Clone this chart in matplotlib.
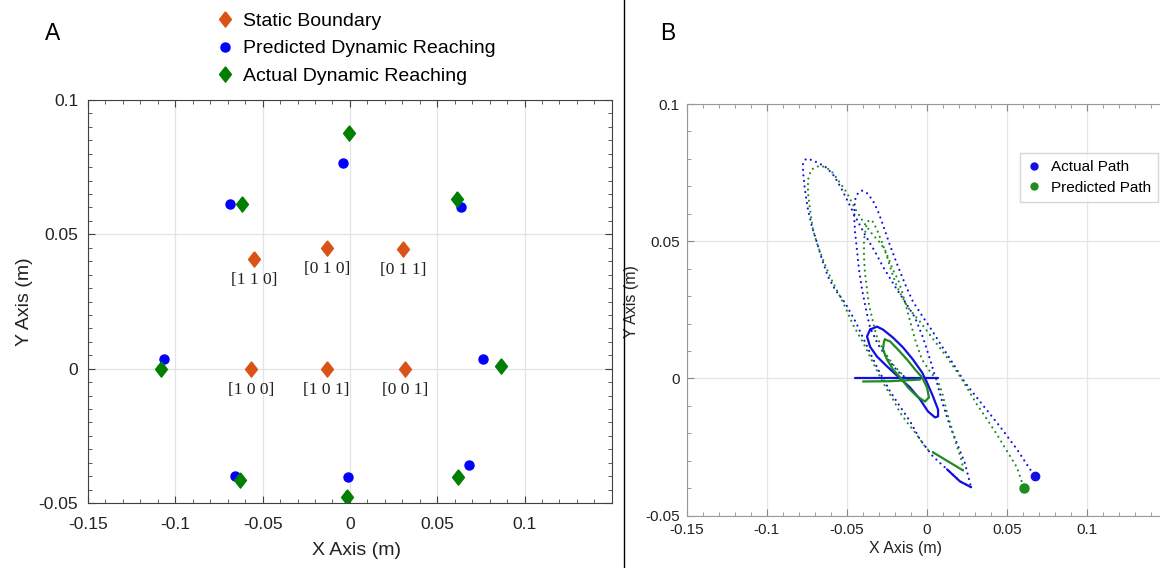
import matplotlib
matplotlib.use('Agg')
import matplotlib.pyplot as plt
from matplotlib.lines import Line2D
from matplotlib.ticker import MultipleLocator, FixedLocator, FuncFormatter

plt.rcParams['font.family'] = ['Liberation Sans', 'DejaVu Sans']
plt.rcParams['axes.unicode_minus'] = False

# ---- Panel A data ----
static_x = [-0.0549, -0.0133, 0.0305, -0.0567, -0.0133, 0.0318]
static_y = [0.0409, 0.0449, 0.0445, 0.0, 0.0, 0.0]
static_labels = ['[1 1 0]', '[0 1 0]', '[0 1 1]', '[1 0 0]', '[1 0 1]', '[0 0 1]']

pred_x = [-0.0687, -0.0038, 0.0634, -0.1063, 0.0760, -0.0657, -0.0009, 0.0680]
pred_y = [0.0612, 0.0765, 0.0602, 0.0036, 0.0036, -0.0400, -0.0403, -0.0360]

act_x = [-0.0617, -0.0003, 0.0615, -0.1080, 0.0865, -0.0629, -0.0015, 0.0617]
act_y = [0.0613, 0.0876, 0.0631, -0.0001, 0.0011, -0.0413, -0.0477, -0.0403]

# ---- Panel B data: actual path (blue) ----
blue_big_x = [0.0277, 0.0208, 0.0127, 0.0039, -0.0042, -0.0104, -0.0167, -0.0229, -0.0304,
              -0.0379, -0.0442, -0.0511, -0.0573, -0.0617, -0.0654, -0.0686, -0.0717, -0.0742,
              -0.0761, -0.0773, -0.0773, -0.0754, -0.0717, -0.0667, -0.0623, -0.0579, -0.0536,
              -0.0492, -0.0442, -0.0386, -0.0323, -0.0273, -0.0198, -0.0136, -0.0073, -0.0023,
              0.0021, 0.0064, 0.0102, 0.0146, 0.0189, 0.0239, 0.0277]
blue_big_y = [-0.0396, -0.0375, -0.0331, -0.0284, -0.0222, -0.0156, -0.0102, -0.0047, 0.0033,
              0.0124, 0.0204, 0.0276, 0.0324, 0.0371, 0.0433, 0.0495, 0.0553, 0.0615,
              0.0687, 0.0753, 0.0785, 0.0800, 0.0796, 0.0782, 0.0767, 0.0738, 0.0695,
              0.0644, 0.0585, 0.0524, 0.0462, 0.0407, 0.0335, 0.0280, 0.0222, 0.0149,
              0.0069, -0.0015, -0.0095, -0.0175, -0.0236, -0.0309, -0.0396]

blue_second_x = [-0.0117, -0.0179, -0.0242, -0.0304, -0.0354, -0.0379, -0.0404, -0.0423, -0.0436,
                 -0.0448, -0.0454, -0.0448, -0.0429, -0.0404, -0.0367, -0.0329, -0.0298, -0.0267,
                 -0.0229, -0.0186, -0.0136, -0.0086, -0.0029, 0.0033, 0.0096, 0.0164, 0.0239,
                 0.0333, 0.0458, 0.0564, 0.0646, 0.0677]
blue_second_y = [-0.0004, 0.0025, 0.0069, 0.0124, 0.0185, 0.0251, 0.0324, 0.0396, 0.0469,
                 0.0535, 0.0596, 0.0651, 0.0676, 0.0684, 0.0673, 0.0640, 0.0600, 0.0549,
                 0.0484, 0.0418, 0.0345, 0.0280, 0.0229, 0.0175, 0.0116, 0.0055, -0.0015,
                 -0.0084, -0.0175, -0.0258, -0.0331, -0.0356]

blue_loop_x = [-0.0354, -0.0311, -0.0273, -0.0211, -0.0148, -0.0086, -0.0029, 0.0002, 0.0039,
               0.0071, 0.0071, 0.0052, 0.0008, -0.0042, -0.0104, -0.0179, -0.0248, -0.0311,
               -0.0354, -0.0373, -0.0354]
blue_loop_y = [0.0178, 0.0189, 0.0178, 0.0149, 0.0113, 0.0069, 0.0022, -0.0015, -0.0065,
               -0.0113, -0.0138, -0.0142, -0.0120, -0.0076, -0.0033, 0.0007, 0.0044, 0.0080,
               0.0116, 0.0153, 0.0178]

blue_hline_x = [-0.0448, 0.0073]
blue_hline_y = [0.0, 0.0]

blue_tip_x = [0.0127, 0.0208, 0.0277]
blue_tip_y = [-0.0331, -0.0375, -0.0396]

# ---- Panel B data: predicted path (green) ----
green_big_x = [0.0039, 0.0002, -0.0073, -0.0123, -0.0167, -0.0211, -0.0273, -0.0336, -0.0398,
               -0.0461, -0.0511, -0.0554, -0.0604, -0.0648, -0.0679, -0.0711, -0.0729, -0.0742,
               -0.0742, -0.0723, -0.0692, -0.0661, -0.0623, -0.0586, -0.0542, -0.0498, -0.0467,
               -0.0436, -0.0392, -0.0342, -0.0292, -0.0261, -0.0236, -0.0211, -0.0179, -0.0154,
               -0.0123, -0.0098, -0.0067, -0.0029, 0.0021, 0.0071, 0.0096, 0.0127, 0.0158,
               0.0189, 0.0221, 0.0227]
green_big_y = [-0.0269, -0.0258, -0.0196, -0.0160, -0.0124, -0.0076, -0.0015, 0.0058, 0.0131,
               0.0196, 0.0262, 0.0313, 0.0371, 0.0433, 0.0480, 0.0542, 0.0615, 0.0676,
               0.0724, 0.0760, 0.0771, 0.0775, 0.0767, 0.0749, 0.0713, 0.0676, 0.0640,
               0.0607, 0.0567, 0.0527, 0.0495, 0.0469, 0.0433, 0.0396, 0.0360, 0.0316,
               0.0251, 0.0196, 0.0131, 0.0069, 0.0025, -0.0011, -0.0051, -0.0124, -0.0185,
               -0.0247, -0.0305, -0.0335]

green_second_x = [-0.0136, -0.0211, -0.0273, -0.0317, -0.0342, -0.0361, -0.0373, -0.0386, -0.0392,
                  -0.0392, -0.0379, -0.0361, -0.0336, -0.0311, -0.0279, -0.0248, -0.0217, -0.0186,
                  -0.0154, -0.0117, -0.0042, 0.0033, 0.0114, 0.0189, 0.0258, 0.0314, 0.0377,
                  0.0439, 0.0502, 0.0564, 0.0608]
green_second_y = [0.0004, 0.0051, 0.0105, 0.0160, 0.0222, 0.0269, 0.0324, 0.0385, 0.0444,
                  0.0505, 0.0553, 0.0578, 0.0571, 0.0542, 0.0495, 0.0444, 0.0385, 0.0335,
                  0.0298, 0.0258, 0.0207, 0.0149, 0.0087, 0.0025, -0.0040, -0.0095, -0.0149,
                  -0.0204, -0.0265, -0.0324, -0.0400]

green_loop_x = [-0.0261, -0.0229, -0.0179, -0.0123, -0.0073, -0.0029, 0.0002, 0.0014, -0.0011,
                -0.0061, -0.0117, -0.0154, -0.0211, -0.0248, -0.0273, -0.0267, -0.0261]
green_loop_y = [0.0142, 0.0135, 0.0105, 0.0069, 0.0033, 0.0004, -0.0033, -0.0069, -0.0084,
                -0.0065, -0.0033, -0.0004, 0.0033, 0.0069, 0.0105, 0.0135, 0.0142]

green_hline_x = [-0.0398, -0.0229, -0.0042]
green_hline_y = [-0.0011, -0.0010, -0.0004]

green_tip_x = [0.0039, 0.0227]
green_tip_y = [-0.0269, -0.0335]

blue_end = (0.0677, -0.0356)
green_end = (0.0608, -0.0400)

ORANGE = '#D95319'
BLUE = '#0000FF'
GREEN = '#007F00'
PATH_BLUE = '#1010E0'
PATH_GREEN = '#1E8C1E'

# MATLAB-like diamond: taller than wide
DIAMOND = [(0, 1), (0.78, 0), (0, -1), (-0.78, 0), (0, 1)]

fmt = FuncFormatter(lambda v, p: f'{v:g}')

fig = plt.figure(figsize=(11.6, 5.68), dpi=100)

# ---------------- Panel A ----------------
axA = fig.add_axes([88 / 1160, 65 / 568, 523.8 / 1160, 403 / 568])
axA.plot(static_x, static_y, ls='none', marker=DIAMOND, color=ORANGE, ms=11,
         label='Static Boundary')
axA.plot(pred_x, pred_y, 'o', color=BLUE, ms=6.5, label='Predicted Dynamic Reaching')
axA.plot(act_x, act_y, ls='none', marker=DIAMOND, color=GREEN, ms=11,
         label='Actual Dynamic Reaching')
for x, y, s in zip(static_x, static_y, static_labels):
    axA.text(x, y - 0.0078, s, ha='center', va='center', fontsize=12.5,
             family=['Liberation Serif', 'DejaVu Serif'], color='#222222')

axA.set_xlim(-0.15, 0.15)
axA.set_ylim(-0.05, 0.1)
axA.xaxis.set_major_locator(FixedLocator([-0.15, -0.1, -0.05, 0, 0.05, 0.1]))
axA.yaxis.set_major_locator(FixedLocator([-0.05, 0, 0.05, 0.1]))
axA.xaxis.set_minor_locator(MultipleLocator(0.01))
axA.yaxis.set_minor_locator(MultipleLocator(0.005))
axA.xaxis.set_major_formatter(fmt)
axA.yaxis.set_major_formatter(fmt)
axA.tick_params(which='both', direction='in', top=True, right=True, colors='#404040',
                labelcolor='#222222', labelsize=12.5)
axA.tick_params(which='major', length=5, pad=7)
axA.tick_params(axis='x', which='major', pad=10)
axA.tick_params(which='minor', length=3)
axA.grid(True, which='major', color='#e3e3e3', lw=0.9)
axA.set_axisbelow(True)
for sp in axA.spines.values():
    sp.set_color('#404040')
axA.set_xlabel('X Axis (m)', fontsize=14, color='#222222')
axA.set_ylabel('Y Axis (m)', fontsize=14, color='#222222')
axA.xaxis.set_label_coords(0.513, -0.097)
axA.yaxis.set_label_coords(-0.105, 0.5)

fig.legend(*axA.get_legend_handles_labels(), loc='upper left',
           bbox_to_anchor=(216 / 1160, 1 - 12 / 568), frameon=False, fontsize=14,
           handlelength=0.9, handletextpad=0.5, labelspacing=0.52, borderaxespad=0,
           borderpad=0)

fig.text(45 / 1160, 1 - 34 / 568, 'A', fontsize=16.5, va='center', ha='left')

# ---------------- Panel B ----------------
axB = fig.add_axes([686.7 / 1160, 52.3 / 568, 480 / 1160, 411.7 / 568])
dots = dict(lw=1.6, linestyle=(0, (0.01, 2.5)), dash_capstyle='round')
solid = dict(lw=1.6, linestyle='-', solid_capstyle='round')

axB.plot(blue_big_x, blue_big_y, color=PATH_BLUE, **dots)
axB.plot(blue_second_x, blue_second_y, color=PATH_BLUE, **dots)
axB.plot(green_big_x, green_big_y, color=PATH_GREEN, **dots)
axB.plot(green_second_x, green_second_y, color=PATH_GREEN, **dots)
axB.plot(blue_loop_x, blue_loop_y, color=PATH_BLUE, **solid)
axB.plot(blue_hline_x, blue_hline_y, color=PATH_BLUE, **solid)
axB.plot(blue_tip_x, blue_tip_y, color=PATH_BLUE, **solid)
axB.plot(green_loop_x, green_loop_y, color=PATH_GREEN, **solid)
axB.plot(green_hline_x, green_hline_y, color=PATH_GREEN, **solid)
axB.plot(green_tip_x, green_tip_y, color=PATH_GREEN, **solid)
axB.plot(*blue_end, 'o', color=PATH_BLUE, ms=6)
axB.plot(*green_end, 'o', color=PATH_GREEN, ms=6.5)

axB.set_xlim(-0.15, 0.15)
axB.set_ylim(-0.05, 0.1)
axB.xaxis.set_major_locator(FixedLocator([-0.15, -0.1, -0.05, 0, 0.05, 0.1]))
axB.yaxis.set_major_locator(FixedLocator([-0.05, 0, 0.05, 0.1]))
axB.xaxis.set_minor_locator(MultipleLocator(0.01))
axB.yaxis.set_minor_locator(MultipleLocator(0.01))
axB.xaxis.set_major_formatter(fmt)
axB.yaxis.set_major_formatter(fmt)
axB.tick_params(which='both', direction='in', top=True, right=True, colors='#888888',
                labelcolor='#222222', labelsize=11)
axB.tick_params(which='major', length=5, pad=5)
axB.tick_params(which='minor', length=3)
axB.grid(True, which='major', color='#e6e6e6', lw=0.9)
axB.set_axisbelow(True)
for sp in axB.spines.values():
    sp.set_color('#999999')
axB.set_xlabel('X Axis (m)', fontsize=11.5, color='#222222')
axB.set_ylabel('Y Axis (m)', fontsize=11.5, color='#222222')
axB.xaxis.set_label_coords(0.455, -0.062)
axB.yaxis.set_label_coords(-0.1, 0.52)

handles = [Line2D([], [], marker='o', ls='none', color=PATH_BLUE, ms=5),
           Line2D([], [], marker='o', ls='none', color=PATH_GREEN, ms=5)]
axB.legend(handles, ['Actual Path', 'Predicted Path'], loc='upper right',
           bbox_to_anchor=(0.982, 0.881), fontsize=11, frameon=True, fancybox=False,
           edgecolor='#cccccc', handlelength=1.0, handletextpad=0.6, labelspacing=0.45,
           borderaxespad=0, borderpad=0.45)

fig.text(660 / 1160, 1 - 34 / 568, 'B', fontsize=16.5, va='center', ha='left')

# divider between the panels
fig.add_artist(Line2D([624 / 1160, 624 / 1160], [0.0, 1.0], color='black', lw=1.0,
                      transform=fig.transFigure))

fig.savefig('out.png', dpi=100)
